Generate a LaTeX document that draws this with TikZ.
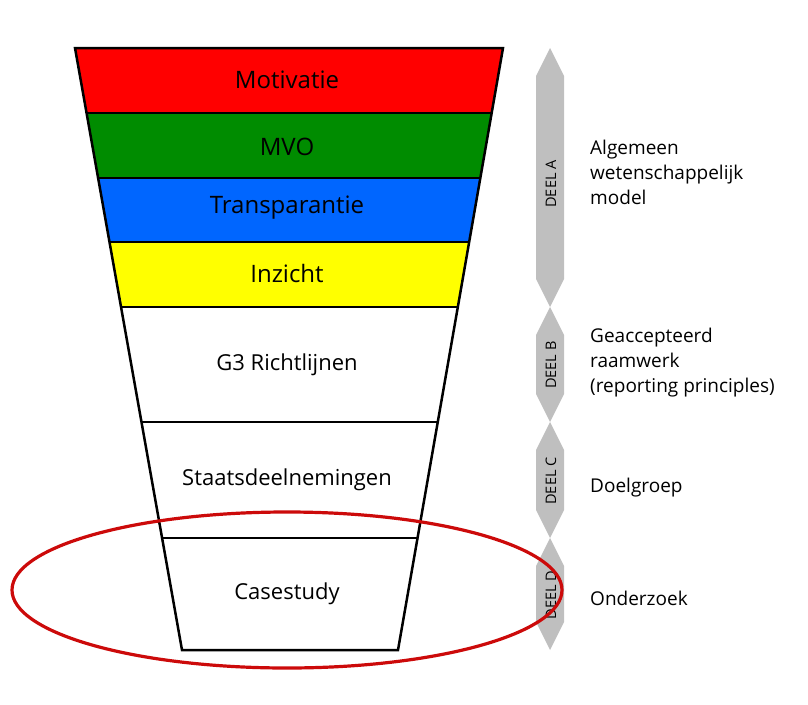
\documentclass[tikz,border=0pt]{standalone}
\usepackage{fontspec}
\setmainfont{Open Sans}
\definecolor{lred}{RGB}{255,0,0}
\definecolor{lgreen}{RGB}{0,140,0}
\definecolor{lblue}{RGB}{0,102,255}
\definecolor{lyellow}{RGB}{255,255,0}
\definecolor{deelgray}{RGB}{191,191,191}
\definecolor{ellred}{RGB}{204,10,10}
\begin{document}
\begin{tikzpicture}[x=1pt,y=-1pt,
  layer/.style={draw=black, line width=2.5pt, line join=miter},
  biglbl/.style={font=\fontsize{24}{28}\selectfont, text=black},
  midlbl/.style={font=\fontsize{22}{26}\selectfont, text=black},
  deel/.style={fill=deelgray, draw=none},
  deellbl/.style={font=\fontsize{14.5}{18}\selectfont, rotate=90, text=black},
  side/.style={font=\fontsize{19}{25}\selectfont, anchor=west, align=left, text=black, inner sep=0pt}]
\useasboundingbox (0,0) rectangle (808,704);
% funnel corner coordinates
\coordinate (l0) at (75,48);    \coordinate (r0) at (503,48);
\coordinate (l1) at (86.6,113); \coordinate (r1) at (491.7,113);
\coordinate (l2) at (98.1,178); \coordinate (r2) at (480.3,178);
\coordinate (l3) at (109.5,242);\coordinate (r3) at (469.2,242);
\coordinate (l4) at (121,307);  \coordinate (r4) at (457.8,307);
\coordinate (l5) at (141.5,422);\coordinate (r5) at (437.8,422);
\coordinate (l6) at (162.1,538);\coordinate (r6) at (417.5,538);
\coordinate (l7) at (182,650);  \coordinate (r7) at (398,650);
% layers
\path[fill=lred] (l0) -- (r0) -- (r1) -- (l1) -- cycle;
\path[fill=lgreen] (l1) -- (r1) -- (r2) -- (l2) -- cycle;
\path[fill=lblue] (l2) -- (r2) -- (r3) -- (l3) -- cycle;
\path[fill=lyellow] (l3) -- (r3) -- (r4) -- (l4) -- cycle;
\path[fill=white] (l4) -- (r4) -- (r7) -- (l7) -- cycle;
\draw[layer] (l0) -- (r0) -- (r7) -- (l7) -- cycle;
\draw[layer] (l1) -- (r1);
\draw[layer] (l2) -- (r2);
\draw[layer] (l3) -- (r3);
\draw[layer] (l4) -- (r4);
\draw[layer] (l5) -- (r5);
\draw[layer] (l6) -- (r6);
% layer labels
\node[biglbl] (mot) at (287,80) {Motivatie};
\node[biglbl] (mvo) at (287,147) {MVO};
\node[biglbl] (tra) at (287,208) {Transparantie};
\node[biglbl] (inz) at (287,273) {Inzicht};
\node[midlbl] (g3) at (287,365) {G3 Richtlijnen};
\node[midlbl] (sta) at (287,480) {Staatsdeelnemingen};
\node[midlbl] (cas) at (287,594) {Casestudy};
% gray DEEL arrows
\path[deel] (550,48) -- (564,76) -- (564,279) -- (550,307) -- (536,279) -- (536,76) -- cycle;
\path[deel] (550,307) -- (564,335) -- (564,394) -- (550,422) -- (536,394) -- (536,335) -- cycle;
\path[deel] (550,422) -- (564,450) -- (564,510) -- (550,538) -- (536,510) -- (536,450) -- cycle;
\path[deel] (550,538) -- (564,566) -- (564,622) -- (550,650) -- (536,622) -- (536,566) -- cycle;
\node[deellbl] (da) at (551,184) {DEEL A};
\node[deellbl] (db) at (551,365) {DEEL B};
\node[deellbl] (dc) at (551,481) {DEEL C};
\node[deellbl] (dd) at (551,595) {DEEL D};
% side texts
\node[side] (sa) at (590,172) {Algemeen\\wetenschappelijk\\model};
\node[side] (sb) at (590,363) {Geaccepteerd\\raamwerk\\(reporting principles)};
\node[side] (sc) at (590,488) {Doelgroep};
\node[side] (sd) at (590,598) {Onderzoek};
% red ellipse
\draw[ellred, line width=3.2pt] (287,590) ellipse [x radius=275, y radius=78];
\end{tikzpicture}
\end{document}
